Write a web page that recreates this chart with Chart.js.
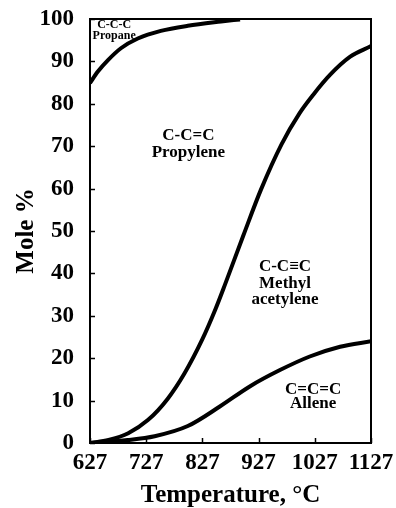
<!DOCTYPE html>
<html>
<head>
<meta charset="utf-8">
<script src="https://cdn.jsdelivr.net/npm/chart.js@4/dist/chart.umd.min.js"></script>
<style>
  html, body { margin: 0; padding: 0; background: #fff; }
  #wrap { width: 396px; height: 508px; }
</style>
</head>
<body>
<div id="wrap"><canvas id="chart" width="396" height="508"></canvas></div>
<script>
// values (temperature in degC, mole %)
const propaneTemps = [627, 641, 659, 682, 712, 753, 801, 860, 894];
const propaneEdge  = [84.9, 87.6, 90.3, 93.1, 95.4, 97.2, 98.4, 99.4, 99.9];

const propyleneTemps = [627, 660, 695, 730, 765, 795, 827, 850, 867, 900, 931, 968, 1000, 1024, 1054, 1090, 1127];
const propyleneEdge  = [0, 0.7, 2.3, 5.4, 10.4, 16.4, 24.5, 31.5, 37.3, 49, 59.7, 70.5, 77.8, 82.1, 86.8, 91.1, 93.6];

const alleneTemps = [627, 694, 742, 801, 858, 912, 965, 1018, 1072, 1127];
const alleneEdge  = [0, 0.7, 1.6, 4.0, 8.6, 13.4, 17.2, 20.4, 22.7, 24];

const xTicks = [627, 727, 827, 927, 1027, 1127];
const yTicks = [0, 10, 20, 30, 40, 50, 60, 70, 80, 90, 100];

const regionLabels = [
  { lines: ['C-C-C', 'Propane'], x: 670, y: [98.7, 96.0], size: 12 },
  { lines: ['C-C=C', 'Propylene'], x: 802, y: [72.6, 68.6], size: 17 },
  { lines: ['C-C\u2261C', 'Methyl', 'acetylene'], x: 974, y: [41.5, 37.6, 33.8], size: 17 },
  { lines: ['C=C=C', 'Allene'], x: 1024, y: [12.7, 9.2], size: 17 }
];

const serif = "'Liberation Serif', 'Times New Roman', serif";

function toPoints(xs, ys) {
  return xs.map((x, i) => ({ x: x, y: ys[i] }));
}

function curve(xs, ys) {
  return {
    data: toPoints(xs, ys),
    borderColor: '#000',
    borderWidth: 4,
    pointRadius: 0,
    fill: false,
    cubicInterpolationMode: 'monotone'
  };
}

// keep the plot box where the reference has it, labels may overhang
function noOverhang(s) {
  s.paddingTop = 0;
  s.paddingBottom = 0;
  s.paddingLeft = 0;
  s.paddingRight = 0;
}

// frame round the plot and short ticks pointing inward
const frameAndTicks = {
  id: 'frameAndTicks',
  afterDatasetsDraw(chart) {
    const { ctx, chartArea: a, scales } = chart;
    ctx.save();
    ctx.strokeStyle = '#000';
    ctx.lineWidth = 1.5;
    ctx.beginPath();
    xTicks.forEach(v => {
      const px = Math.round(scales.x.getPixelForValue(v)) + 0.5;
      ctx.moveTo(px, a.bottom);
      ctx.lineTo(px, a.bottom - 5);
    });
    yTicks.forEach(v => {
      const py = Math.round(scales.y.getPixelForValue(v)) + 0.5;
      ctx.moveTo(a.left, py);
      ctx.lineTo(a.left + 5, py);
    });
    ctx.stroke();
    ctx.lineWidth = 2;
    ctx.strokeRect(a.left, a.top, a.right - a.left, a.bottom - a.top);
    ctx.restore();
  }
};

const regionText = {
  id: 'regionText',
  afterDatasetsDraw(chart) {
    const { ctx, scales } = chart;
    ctx.save();
    ctx.fillStyle = '#000';
    ctx.textAlign = 'center';
    ctx.textBaseline = 'middle';
    regionLabels.forEach(lab => {
      ctx.font = 'bold ' + lab.size + 'px ' + serif;
      const px = scales.x.getPixelForValue(lab.x);
      lab.lines.forEach((t, i) => {
        ctx.fillText(t, px, scales.y.getPixelForValue(lab.y[i]));
      });
    });
    ctx.restore();
  }
};

new Chart(document.getElementById('chart'), {
  type: 'line',
  data: {
    datasets: [
      curve(propaneTemps, propaneEdge),
      curve(propyleneTemps, propyleneEdge),
      curve(alleneTemps, alleneEdge)
    ]
  },
  options: {
    responsive: false,
    animation: false,
    layout: { padding: { top: 19, right: 25, left: 0, bottom: 0 } },
    plugins: {
      legend: { display: false },
      tooltip: { enabled: false }
    },
    scales: {
      x: {
        type: 'linear',
        min: 627,
        max: 1127,
        afterBuildTicks: s => { s.ticks = xTicks.map(v => ({ value: v })); },
        afterFit: s => { s.height = 65; noOverhang(s); },
        grid: { display: false, drawTicks: false },
        border: { display: false },
        ticks: {
          color: '#000',
          padding: 6,
          maxRotation: 0,
          autoSkip: false,
          callback: v => String(v),
          font: { family: serif, weight: 'bold', size: 23 }
        },
        title: {
          display: true,
          text: 'Temperature, \u00B0C',
          color: '#000',
          padding: { top: 0, bottom: 0 },
          font: { family: serif, weight: 'bold', size: 25, lineHeight: 1 }
        }
      },
      y: {
        min: 0,
        max: 100,
        afterBuildTicks: s => { s.ticks = yTicks.map(v => ({ value: v })); },
        afterFit: s => { s.width = 90; noOverhang(s); },
        grid: { display: false, drawTicks: false },
        border: { display: false },
        ticks: {
          color: '#000',
          padding: 16,
          callback: v => String(v),
          font: { family: serif, weight: 'bold', size: 23 }
        },
        title: {
          display: true,
          text: 'Mole %',
          color: '#000',
          padding: { top: 14, bottom: 0 },
          font: { family: serif, weight: 'bold', size: 25, lineHeight: 1 }
        }
      }
    }
  },
  plugins: [frameAndTicks, regionText]
});
</script>
</body>
</html>
